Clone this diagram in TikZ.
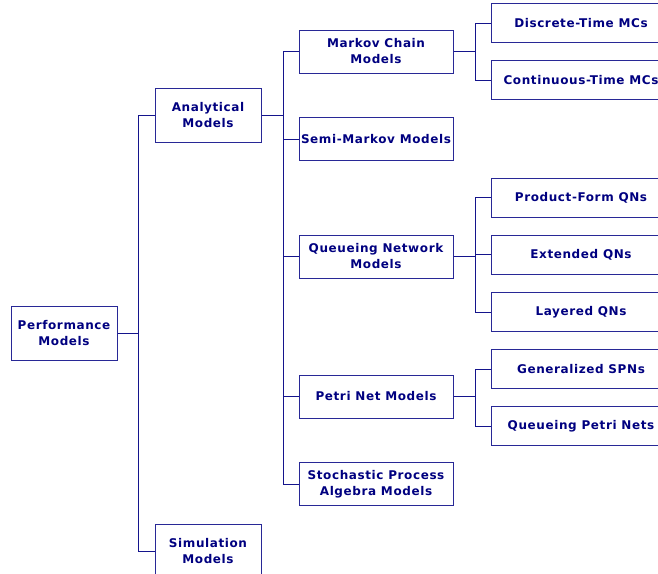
\documentclass[tikz,border=0pt]{standalone}
\usepackage{fontspec}
\setmainfont{DejaVu Sans}[LetterSpace=5]
\definecolor{navyink}{RGB}{0,0,128}
\definecolor{boxline}{RGB}{40,40,150}
\definecolor{wire}{RGB}{20,20,140}
\begin{document}
\begin{tikzpicture}[x=1pt,y=-1pt,
  box/.style={draw=boxline,line width=1pt,fill=white,text=navyink,align=center,
    inner sep=0pt,font=\fontsize{12}{16}\selectfont\bfseries},
  rootbox/.style={box,minimum width=106pt,minimum height=54pt},
  midbox/.style={box,minimum width=154pt,minimum height=43pt},
  leafbox/.style={box,minimum width=180pt,minimum height=39pt},
  link/.style={draw=wire,line width=1pt}]
\useasboundingbox (0,0) rectangle (658,573);
\clip (0,0) rectangle (658,573);

% level 1
\node[rootbox] (perf) at (64,333) {Performance\\Models};
% level 2
\node[rootbox] (ana) at (208,115) {Analytical\\Models};
\node[rootbox] (sim) at (208,551) {Simulation\\Models};
% level 3
\node[midbox] (mc)  at (376,51.5)  {Markov Chain\\Models};
\node[midbox] (smm) at (376,139)   {Semi-Markov Models};
\node[midbox] (qn)  at (376,256.5) {Queueing Network\\Models};
\node[midbox] (pn)  at (376,396.5) {Petri Net Models};
\node[midbox] (spa) at (376,484)   {Stochastic Process\\Algebra Models};
% level 4 (cut by the right edge)
\node[leafbox] (dtmc) at (581,23)    {\makebox[166pt]{Discrete-Time MCs}};
\node[leafbox] (ctmc) at (581,80)    {\makebox[166pt]{Continuous-Time MCs}};
\node[leafbox] (pfqn) at (581,197.5) {\makebox[166pt]{Product-Form QNs}};
\node[leafbox] (eqn)  at (581,254.5) {\makebox[166pt]{Extended QNs}};
\node[leafbox] (lqn)  at (581,312)   {\makebox[166pt]{Layered QNs}};
\node[leafbox] (gspn) at (581,369)   {\makebox[166pt]{Generalized SPNs}};
\node[leafbox] (qpn)  at (581,426)   {\makebox[166pt]{Queueing Petri Nets}};

% junction points of the tree
\coordinate (j1) at (138,333);
\coordinate (j2) at (283,115);
\coordinate (j3) at (475,51.5);
\coordinate (j4) at (475,256.5);
\coordinate (j5) at (475,396.5);

\draw[link] (perf.east) -- (j1);
\draw[link] (j1) |- (ana.west);
\draw[link] (j1) |- (sim.west);

\draw[link] (ana.east) -- (j2);
\foreach \n in {mc,smm,qn,pn,spa} \draw[link] (j2) |- (\n.west);

\draw[link] (mc.east) -- (j3);
\foreach \n in {dtmc,ctmc} \draw[link] (j3) |- (\n.west);

\draw[link] (qn.east) -- (j4);
\foreach \n in {pfqn,eqn,lqn} \draw[link] (j4) |- (\n.west);

\draw[link] (pn.east) -- (j5);
\foreach \n in {gspn,qpn} \draw[link] (j5) |- (\n.west);
\end{tikzpicture}
\end{document}
